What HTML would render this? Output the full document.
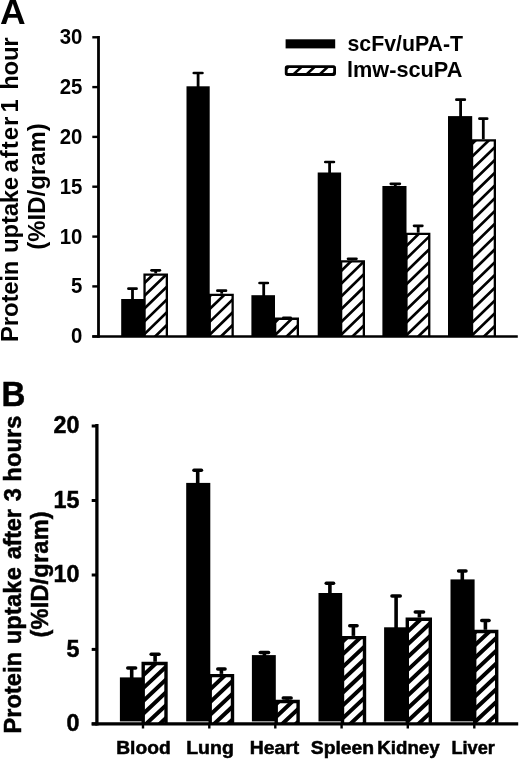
<!DOCTYPE html>
<html lang="en"><head><meta charset="utf-8"><title>Protein uptake</title>
<style>
html,body{margin:0;padding:0;background:#fff}
body{width:520px;height:761px;overflow:hidden}
svg{display:block;filter:blur(0.4px)}
.pB text{stroke:#000;stroke-width:0.5px}
text{font-family:"Liberation Sans",Arial,Helvetica,sans-serif;font-weight:700;fill:#000}
</style></head><body>
<svg width="520" height="761" viewBox="0 0 520 761">
<rect width="520" height="761" fill="#fff"/>
<!-- panel A -->
<g class="pA">
<rect x="121.20" y="299.00" width="23.30" height="37.45" fill="#000"/>
<path d="M132.50 300.00V288.70" stroke="#000" stroke-width="2.80" fill="none"/><path d="M128.45 288.70H136.55" stroke="#000" stroke-width="2.70" stroke-linecap="round" fill="none"/>
<rect x="186.50" y="86.30" width="23.20" height="250.15" fill="#000"/>
<path d="M198.10 87.30V73.00" stroke="#000" stroke-width="2.80" fill="none"/><path d="M193.80 73.00H202.40" stroke="#000" stroke-width="2.70" stroke-linecap="round" fill="none"/>
<rect x="251.40" y="295.20" width="23.60" height="41.25" fill="#000"/>
<path d="M263.70 296.20V283.00" stroke="#000" stroke-width="2.80" fill="none"/><path d="M259.55 283.00H267.85" stroke="#000" stroke-width="2.70" stroke-linecap="round" fill="none"/>
<rect x="317.70" y="172.50" width="23.40" height="163.95" fill="#000"/>
<path d="M329.60 173.50V162.00" stroke="#000" stroke-width="2.80" fill="none"/><path d="M325.30 162.00H333.90" stroke="#000" stroke-width="2.70" stroke-linecap="round" fill="none"/>
<rect x="382.40" y="186.00" width="24.10" height="150.45" fill="#000"/>
<path d="M395.30 187.00V183.80" stroke="#000" stroke-width="2.80" fill="none"/><path d="M390.80 183.80H399.80" stroke="#000" stroke-width="2.70" stroke-linecap="round" fill="none"/>
<rect x="448.00" y="116.10" width="24.20" height="220.35" fill="#000"/>
<path d="M460.60 117.10V99.70" stroke="#000" stroke-width="2.80" fill="none"/><path d="M456.40 99.70H464.80" stroke="#000" stroke-width="2.70" stroke-linecap="round" fill="none"/>
<clipPath id="c1"><rect x="144.55" y="274.55" width="22.30" height="61.90"/></clipPath><path d="M144.55 336.45V274.55H166.85V336.45" fill="#fff" stroke="#000" stroke-width="2.30" stroke-linejoin="miter"/><path clip-path="url(#c1)" d="M143.40 258.54L168.00 234.68M143.40 271.30L168.00 247.44M143.40 284.06L168.00 260.20M143.40 296.82L168.00 272.96M143.40 309.58L168.00 285.72M143.40 322.34L168.00 298.48M143.40 335.10L168.00 311.24M143.40 347.86L168.00 324.00M143.40 360.62L168.00 336.76M143.40 373.38L168.00 349.52" stroke="#000" stroke-width="2.70" fill="none"/>
<path d="M155.70 273.40V270.30" stroke="#000" stroke-width="2.80" fill="none"/><path d="M151.55 270.30H159.85" stroke="#000" stroke-width="2.70" stroke-linecap="round" fill="none"/>
<clipPath id="c2"><rect x="209.75" y="294.90" width="22.90" height="41.55"/></clipPath><path d="M209.75 336.45V294.90H232.65V336.45" fill="#fff" stroke="#000" stroke-width="2.30" stroke-linejoin="miter"/><path clip-path="url(#c2)" d="M208.60 271.86L233.80 247.42M208.60 284.62L233.80 260.18M208.60 297.38L233.80 272.94M208.60 310.14L233.80 285.70M208.60 322.90L233.80 298.46M208.60 335.66L233.80 311.22M208.60 348.42L233.80 323.98M208.60 361.18L233.80 336.74M208.60 373.94L233.80 349.50" stroke="#000" stroke-width="2.70" fill="none"/>
<path d="M221.70 293.75V290.70" stroke="#000" stroke-width="2.80" fill="none"/><path d="M217.40 290.70H226.00" stroke="#000" stroke-width="2.70" stroke-linecap="round" fill="none"/>
<clipPath id="c3"><rect x="275.15" y="318.75" width="22.70" height="17.70"/></clipPath><path d="M275.15 336.45V318.75H297.85V336.45" fill="#fff" stroke="#000" stroke-width="2.30" stroke-linejoin="miter"/><path clip-path="url(#c3)" d="M274.00 297.74L299.00 273.49M274.00 310.50L299.00 286.25M274.00 323.26L299.00 299.01M274.00 336.02L299.00 311.77M274.00 348.78L299.00 324.53M274.00 361.54L299.00 337.29M274.00 374.30L299.00 350.05" stroke="#000" stroke-width="2.70" fill="none"/>
<path d="M287.00 317.60V317.90" stroke="#000" stroke-width="2.80" fill="none"/><path d="M283.35 317.90H290.65" stroke="#000" stroke-width="2.70" stroke-linecap="round" fill="none"/>
<clipPath id="c4"><rect x="341.15" y="261.45" width="22.70" height="75.00"/></clipPath><path d="M341.15 336.45V261.45H363.85V336.45" fill="#fff" stroke="#000" stroke-width="2.30" stroke-linejoin="miter"/><path clip-path="url(#c4)" d="M340.00 246.48L365.00 222.23M340.00 259.24L365.00 234.99M340.00 272.00L365.00 247.75M340.00 284.76L365.00 260.51M340.00 297.52L365.00 273.27M340.00 310.28L365.00 286.03M340.00 323.04L365.00 298.79M340.00 335.80L365.00 311.55M340.00 348.56L365.00 324.31M340.00 361.32L365.00 337.07M340.00 374.08L365.00 349.83" stroke="#000" stroke-width="2.70" fill="none"/>
<path d="M352.25 260.30V258.80" stroke="#000" stroke-width="2.80" fill="none"/><path d="M348.05 258.80H356.45" stroke="#000" stroke-width="2.70" stroke-linecap="round" fill="none"/>
<clipPath id="c5"><rect x="406.45" y="233.85" width="22.80" height="102.60"/></clipPath><path d="M406.45 336.45V233.85H429.25V336.45" fill="#fff" stroke="#000" stroke-width="2.30" stroke-linejoin="miter"/><path clip-path="url(#c5)" d="M405.30 208.66L430.40 184.31M405.30 221.42L430.40 197.07M405.30 234.18L430.40 209.83M405.30 246.94L430.40 222.59M405.30 259.70L430.40 235.35M405.30 272.46L430.40 248.11M405.30 285.22L430.40 260.87M405.30 297.98L430.40 273.63M405.30 310.74L430.40 286.39M405.30 323.50L430.40 299.15M405.30 336.26L430.40 311.91M405.30 349.02L430.40 324.67M405.30 361.78L430.40 337.43M405.30 374.54L430.40 350.19" stroke="#000" stroke-width="2.70" fill="none"/>
<path d="M418.20 232.70V225.80" stroke="#000" stroke-width="2.80" fill="none"/><path d="M414.05 225.80H422.35" stroke="#000" stroke-width="2.70" stroke-linecap="round" fill="none"/>
<clipPath id="c6"><rect x="472.05" y="140.35" width="22.80" height="196.10"/></clipPath><path d="M472.05 336.45V140.35H494.85V336.45" fill="#fff" stroke="#000" stroke-width="2.30" stroke-linejoin="miter"/><path clip-path="url(#c6)" d="M470.90 119.51L496.00 95.16M470.90 132.27L496.00 107.92M470.90 145.03L496.00 120.68M470.90 157.79L496.00 133.44M470.90 170.55L496.00 146.20M470.90 183.31L496.00 158.96M470.90 196.07L496.00 171.72M470.90 208.83L496.00 184.48M470.90 221.59L496.00 197.24M470.90 234.35L496.00 210.00M470.90 247.11L496.00 222.76M470.90 259.87L496.00 235.52M470.90 272.63L496.00 248.28M470.90 285.39L496.00 261.04M470.90 298.15L496.00 273.80M470.90 310.91L496.00 286.56M470.90 323.67L496.00 299.32M470.90 336.43L496.00 312.08M470.90 349.19L496.00 324.84M470.90 361.95L496.00 337.60M470.90 374.71L496.00 350.36" stroke="#000" stroke-width="2.70" fill="none"/>
<path d="M483.30 139.20V118.70" stroke="#000" stroke-width="2.80" fill="none"/><path d="M479.45 118.70H487.15" stroke="#000" stroke-width="2.70" stroke-linecap="round" fill="none"/>
<path d="M98.50 36.10V337.75" stroke="#000" stroke-width="2.80" fill="none"/>
<path d="M92.30 336.45H517.80" stroke="#000" stroke-width="2.60" fill="none"/>
<path d="M92.30 37.30H98.50" stroke="#000" stroke-width="2.40" fill="none"/><text transform="translate(82.40 44.20) scale(0.9100 1.0000)" font-size="22.40" text-anchor="end">30</text>
<path d="M92.30 87.10H98.50" stroke="#000" stroke-width="2.40" fill="none"/><text transform="translate(82.40 94.00) scale(0.9100 1.0000)" font-size="22.40" text-anchor="end">25</text>
<path d="M92.30 136.90H98.50" stroke="#000" stroke-width="2.40" fill="none"/><text transform="translate(82.40 143.80) scale(0.9100 1.0000)" font-size="22.40" text-anchor="end">20</text>
<path d="M92.30 186.70H98.50" stroke="#000" stroke-width="2.40" fill="none"/><text transform="translate(82.40 193.60) scale(0.9100 1.0000)" font-size="22.40" text-anchor="end">15</text>
<path d="M92.30 236.60H98.50" stroke="#000" stroke-width="2.40" fill="none"/><text transform="translate(82.40 243.50) scale(0.9100 1.0000)" font-size="22.40" text-anchor="end">10</text>
<path d="M92.30 286.40H98.50" stroke="#000" stroke-width="2.40" fill="none"/><text transform="translate(82.40 293.30) scale(0.9100 1.0000)" font-size="22.40" text-anchor="end">5</text>
<path d="M92.30 336.45H98.50" stroke="#000" stroke-width="2.40" fill="none"/><text transform="translate(82.40 343.35) scale(0.9100 1.0000)" font-size="22.40" text-anchor="end">0</text>
<text transform="translate(0.00 24.20)" font-size="35.50">A</text>
<text transform="translate(18.40 342.40) rotate(-90) scale(0.9750 1)" font-size="24.50"><tspan x="0.41" letter-spacing="-0.138">Protein</tspan> <tspan x="91.81" letter-spacing="-0.194">uptake</tspan> <tspan x="174.36" letter-spacing="1.022">after</tspan> <tspan x="235.79">1</tspan> <tspan x="259.11" letter-spacing="-0.219">hour</tspan></text>
<text transform="translate(45.40 250.60) rotate(-90) scale(0.9750 1)" font-size="24.50"><tspan x="0.83" letter-spacing="0.056">(%ID/gram)</tspan></text>
<rect x="285.60" y="39.30" width="49.60" height="9.10" fill="#000"/>
<rect x="286.20" y="66.70" width="48.40" height="7.80" fill="#fff" stroke="#000" stroke-width="2.80" rx="1.2"/>
<clipPath id="lgc"><rect x="286.20" y="66.70" width="48.40" height="7.80"/></clipPath><path clip-path="url(#lgc)" d="M291.67 75.90L303.33 65.30M304.77 75.90L316.43 65.30M317.92 75.90L329.58 65.30M278.57 75.90L290.23 65.30M331.02 75.90L342.68 65.30" stroke="#000" stroke-width="2.60" fill="none"/>
<text transform="translate(347.50 51.00)" font-size="21.30">scFv/uPA-T</text>
<text transform="translate(347.00 77.30) scale(1.0200 1.0000)" font-size="21.30">lmw-scuPA</text>
</g>
<!-- panel B -->
<g class="pB">
<rect x="119.90" y="677.40" width="23.60" height="44.00" fill="#000"/>
<path d="M131.70 678.40V668.10" stroke="#000" stroke-width="3.60" fill="none"/><path d="M127.75 668.10H135.65" stroke="#000" stroke-width="3.50" stroke-linecap="round" fill="none"/>
<rect x="186.20" y="482.90" width="24.10" height="238.50" fill="#000"/>
<path d="M197.70 483.90V470.20" stroke="#000" stroke-width="3.60" fill="none"/><path d="M193.95 470.20H201.45" stroke="#000" stroke-width="3.50" stroke-linecap="round" fill="none"/>
<rect x="251.90" y="655.10" width="23.90" height="66.30" fill="#000"/>
<path d="M264.40 656.10V652.50" stroke="#000" stroke-width="3.60" fill="none"/><path d="M260.25 652.50H268.55" stroke="#000" stroke-width="3.50" stroke-linecap="round" fill="none"/>
<rect x="318.50" y="593.00" width="23.70" height="128.40" fill="#000"/>
<path d="M329.90 594.00V583.30" stroke="#000" stroke-width="3.60" fill="none"/><path d="M326.25 583.30H333.55" stroke="#000" stroke-width="3.50" stroke-linecap="round" fill="none"/>
<rect x="384.10" y="627.30" width="23.90" height="94.10" fill="#000"/>
<path d="M396.10 628.30V596.00" stroke="#000" stroke-width="3.60" fill="none"/><path d="M391.95 596.00H400.25" stroke="#000" stroke-width="3.50" stroke-linecap="round" fill="none"/>
<rect x="450.50" y="579.40" width="24.10" height="142.00" fill="#000"/>
<path d="M462.30 580.40V571.00" stroke="#000" stroke-width="3.60" fill="none"/><path d="M458.60 571.00H466.00" stroke="#000" stroke-width="3.50" stroke-linecap="round" fill="none"/>
<clipPath id="c7"><rect x="143.20" y="663.50" width="22.80" height="60.40"/></clipPath><path d="M143.20 723.90V663.50H166.00V723.90" fill="#fff" stroke="#000" stroke-width="3.40" stroke-linejoin="miter"/><path clip-path="url(#c7)" d="M141.50 638.59L167.70 613.96M141.50 651.39L167.70 626.76M141.50 664.19L167.70 639.56M141.50 676.99L167.70 652.36M141.50 689.79L167.70 665.16M141.50 702.59L167.70 677.96M141.50 715.39L167.70 690.76M141.50 728.19L167.70 703.56M141.50 740.99L167.70 716.36M141.50 753.79L167.70 729.16M141.50 766.59L167.70 741.96" stroke="#000" stroke-width="4.00" fill="none"/>
<path d="M155.10 661.80V654.20" stroke="#000" stroke-width="3.60" fill="none"/><path d="M151.15 654.20H159.05" stroke="#000" stroke-width="3.50" stroke-linecap="round" fill="none"/>
<clipPath id="c8"><rect x="210.20" y="675.60" width="22.30" height="48.30"/></clipPath><path d="M210.20 723.90V675.60H232.50V723.90" fill="#fff" stroke="#000" stroke-width="3.40" stroke-linejoin="miter"/><path clip-path="url(#c8)" d="M208.50 652.41L234.20 628.25M208.50 665.21L234.20 641.05M208.50 678.01L234.20 653.85M208.50 690.81L234.20 666.65M208.50 703.61L234.20 679.45M208.50 716.41L234.20 692.25M208.50 729.21L234.20 705.05M208.50 742.01L234.20 717.85M208.50 754.81L234.20 730.65M208.50 767.61L234.20 743.45" stroke="#000" stroke-width="4.00" fill="none"/>
<path d="M221.40 673.90V669.10" stroke="#000" stroke-width="3.60" fill="none"/><path d="M217.75 669.10H225.05" stroke="#000" stroke-width="3.50" stroke-linecap="round" fill="none"/>
<clipPath id="c9"><rect x="276.20" y="701.50" width="21.90" height="22.40"/></clipPath><path d="M276.20 723.90V701.50H298.10V723.90" fill="#fff" stroke="#000" stroke-width="3.40" stroke-linejoin="miter"/><path clip-path="url(#c9)" d="M274.50 679.97L299.80 656.19M274.50 692.77L299.80 668.99M274.50 705.57L299.80 681.79M274.50 718.37L299.80 694.59M274.50 731.17L299.80 707.39M274.50 743.97L299.80 720.19M274.50 756.77L299.80 732.99M274.50 769.57L299.80 745.79" stroke="#000" stroke-width="4.00" fill="none"/>
<path d="M287.20 699.80V698.00" stroke="#000" stroke-width="3.60" fill="none"/><path d="M283.25 698.00H291.15" stroke="#000" stroke-width="3.50" stroke-linecap="round" fill="none"/>
<clipPath id="c10"><rect x="342.50" y="637.60" width="22.00" height="86.30"/></clipPath><path d="M342.50 723.90V637.60H364.50V723.90" fill="#fff" stroke="#000" stroke-width="3.40" stroke-linejoin="miter"/><path clip-path="url(#c10)" d="M340.80 617.65L366.20 593.77M340.80 630.45L366.20 606.57M340.80 643.25L366.20 619.37M340.80 656.05L366.20 632.17M340.80 668.85L366.20 644.97M340.80 681.65L366.20 657.77M340.80 694.45L366.20 670.57M340.80 707.25L366.20 683.37M340.80 720.05L366.20 696.17M340.80 732.85L366.20 708.97M340.80 745.65L366.20 721.77M340.80 758.45L366.20 734.57M340.80 771.25L366.20 747.37" stroke="#000" stroke-width="4.00" fill="none"/>
<path d="M353.40 635.90V625.70" stroke="#000" stroke-width="3.60" fill="none"/><path d="M349.75 625.70H357.05" stroke="#000" stroke-width="3.50" stroke-linecap="round" fill="none"/>
<clipPath id="c11"><rect x="407.30" y="619.20" width="23.00" height="104.70"/></clipPath><path d="M407.30 723.90V619.20H430.30V723.90" fill="#fff" stroke="#000" stroke-width="3.40" stroke-linejoin="miter"/><path clip-path="url(#c11)" d="M405.60 595.14L432.00 570.32M405.60 607.94L432.00 583.12M405.60 620.74L432.00 595.92M405.60 633.54L432.00 608.72M405.60 646.34L432.00 621.52M405.60 659.14L432.00 634.32M405.60 671.94L432.00 647.12M405.60 684.74L432.00 659.92M405.60 697.54L432.00 672.72M405.60 710.34L432.00 685.52M405.60 723.14L432.00 698.32M405.60 735.94L432.00 711.12M405.60 748.74L432.00 723.92M405.60 761.54L432.00 736.72" stroke="#000" stroke-width="4.00" fill="none"/>
<path d="M419.40 617.50V612.00" stroke="#000" stroke-width="3.60" fill="none"/><path d="M415.25 612.00H423.55" stroke="#000" stroke-width="3.50" stroke-linecap="round" fill="none"/>
<clipPath id="c12"><rect x="474.70" y="631.50" width="22.00" height="92.40"/></clipPath><path d="M474.70 723.90V631.50H496.70V723.90" fill="#fff" stroke="#000" stroke-width="3.40" stroke-linejoin="miter"/><path clip-path="url(#c12)" d="M473.00 608.58L498.40 584.70M473.00 621.38L498.40 597.50M473.00 634.18L498.40 610.30M473.00 646.98L498.40 623.10M473.00 659.78L498.40 635.90M473.00 672.58L498.40 648.70M473.00 685.38L498.40 661.50M473.00 698.18L498.40 674.30M473.00 710.98L498.40 687.10M473.00 723.78L498.40 699.90M473.00 736.58L498.40 712.70M473.00 749.38L498.40 725.50M473.00 762.18L498.40 738.30" stroke="#000" stroke-width="4.00" fill="none"/>
<path d="M485.40 629.80V620.60" stroke="#000" stroke-width="3.60" fill="none"/><path d="M481.75 620.60H489.05" stroke="#000" stroke-width="3.50" stroke-linecap="round" fill="none"/>
<path d="M96.90 424.10V725.50" stroke="#000" stroke-width="3.30" fill="none"/>
<path d="M91.70 723.90H518.20" stroke="#000" stroke-width="3.20" fill="none"/>
<path d="M91.70 426.00H96.90" stroke="#000" stroke-width="3.00" fill="none"/><text transform="translate(79.50 433.40) scale(0.9700 1.0000)" font-size="24.00" text-anchor="end">20</text>
<path d="M91.70 500.50H96.90" stroke="#000" stroke-width="3.00" fill="none"/><text transform="translate(79.50 507.90) scale(0.9700 1.0000)" font-size="24.00" text-anchor="end">15</text>
<path d="M91.70 575.00H96.90" stroke="#000" stroke-width="3.00" fill="none"/><text transform="translate(79.50 582.40) scale(0.9700 1.0000)" font-size="24.00" text-anchor="end">10</text>
<path d="M91.70 649.40H96.90" stroke="#000" stroke-width="3.00" fill="none"/><text transform="translate(79.50 656.80) scale(0.9700 1.0000)" font-size="24.00" text-anchor="end">5</text>
<path d="M91.70 723.90H96.90" stroke="#000" stroke-width="3.00" fill="none"/><text transform="translate(79.50 731.30) scale(0.9700 1.0000)" font-size="24.00" text-anchor="end">0</text>
<path d="M143.00 723.90V728.50" stroke="#000" stroke-width="2.40" fill="none"/>
<path d="M209.30 723.90V728.50" stroke="#000" stroke-width="2.40" fill="none"/>
<path d="M275.30 723.90V728.50" stroke="#000" stroke-width="2.40" fill="none"/>
<path d="M341.60 723.90V728.50" stroke="#000" stroke-width="2.40" fill="none"/>
<path d="M407.80 723.90V728.50" stroke="#000" stroke-width="2.40" fill="none"/>
<path d="M474.30 723.90V728.50" stroke="#000" stroke-width="2.40" fill="none"/>
<text transform="translate(1.60 406.20) scale(0.9600 1.0000)" font-size="34.50">B</text>
<text transform="translate(21.20 734.00) rotate(-90) scale(1.0050 1)" font-size="23.50"><tspan x="0.42" letter-spacing="0.047">Protein</tspan> <tspan x="89.29" letter-spacing="0.189">uptake</tspan> <tspan x="173.84" letter-spacing="-0.234">after</tspan> <tspan x="231.60">3</tspan> <tspan x="251.10" letter-spacing="0.127">hours</tspan></text>
<text transform="translate(47.60 638.40) rotate(-90) scale(1.0050 1)" font-size="23.50"><tspan x="0.82" letter-spacing="0.187">(%ID/gram)</tspan></text>
<text transform="translate(116.25 754.30) scale(1.0916 1.0000)" font-size="17.60">Blood</text>
<text transform="translate(186.23 754.30) scale(1.1055 1.0000)" font-size="17.60">Lung</text>
<text transform="translate(249.74 754.30) scale(1.0996 1.0000)" font-size="17.60">Heart</text>
<text transform="translate(310.79 754.30) scale(1.0990 1.0000)" font-size="17.60">Spleen</text>
<text transform="translate(377.29 754.30) scale(1.0633 1.0000)" font-size="17.60">Kidney</text>
<text transform="translate(451.46 754.30) scale(1.0320 1.0000)" font-size="17.60">Liver</text>
</g>
</svg>
</body></html>
